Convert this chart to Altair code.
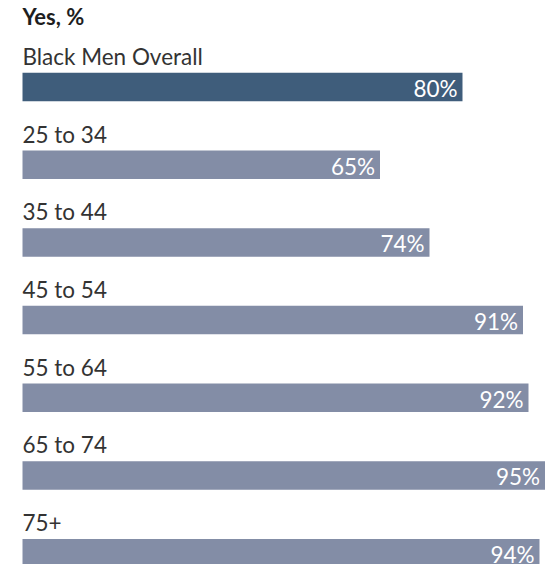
import altair as alt
import pandas as pd

header = ["Yes, %"]
categories = ["Black Men Overall", "25 to 34", "35 to 44", "45 to 54", "55 to 64", "65 to 74", "75+"]
values = [80, 65, 74, 91, 92, 95, 94]
colors = ["#3f5d7b", "#838da6", "#838da6", "#838da6", "#838da6", "#838da6", "#838da6"]

df = pd.DataFrame({
    "cat": categories,
    "val": values,
    "idx": list(range(len(categories))),
    "color": colors,
    "lbl": [f"{v}%" for v in values],
})
hdr = pd.DataFrame({"t": header})

FONT = "Lato"

x = alt.X("val:Q", scale=alt.Scale(domain=[0, 95], nice=False, padding=0), axis=None)
y = alt.Y("idx:Q", scale=alt.Scale(domain=[0, 6], reverse=True, nice=False, zero=False, padding=0), axis=None)

bars = alt.Chart(df).mark_bar(height=28.5).encode(
    x=x, x2=alt.value(0), y=y, color=alt.Color("color:N", scale=None)
)

labels = alt.Chart(df).mark_text(
    align="left", baseline="alphabetic", dy=-22, fontSize=22.5, font=FONT,
    fontWeight=400, color="#333333"
).encode(x=alt.value(0), y=y, text="cat:N")

vals = alt.Chart(df).mark_text(
    align="right", baseline="alphabetic", dx=-5, dy=10, fontSize=22.5, font=FONT,
    fontWeight=400, color="white"
).encode(x=x, y=y, text="lbl:N")

title = alt.Chart(hdr).mark_text(
    align="left", baseline="alphabetic", fontSize=22, font=FONT,
    fontWeight="bold", color="#1e1e1e"
).encode(x=alt.value(0), y=alt.value(-62), text="t:N")

chart = alt.layer(bars, labels, vals, title).properties(
    width=522.5,
    height=466.2,
    padding={"left": 14.5, "top": 79, "right": 0, "bottom": 11},
    autosize=alt.AutoSizeParams(type="none"),
    background="white",
).configure_view(strokeWidth=0)

chart.save("out.html", embed_options={"renderer": "svg", "actions": False})
